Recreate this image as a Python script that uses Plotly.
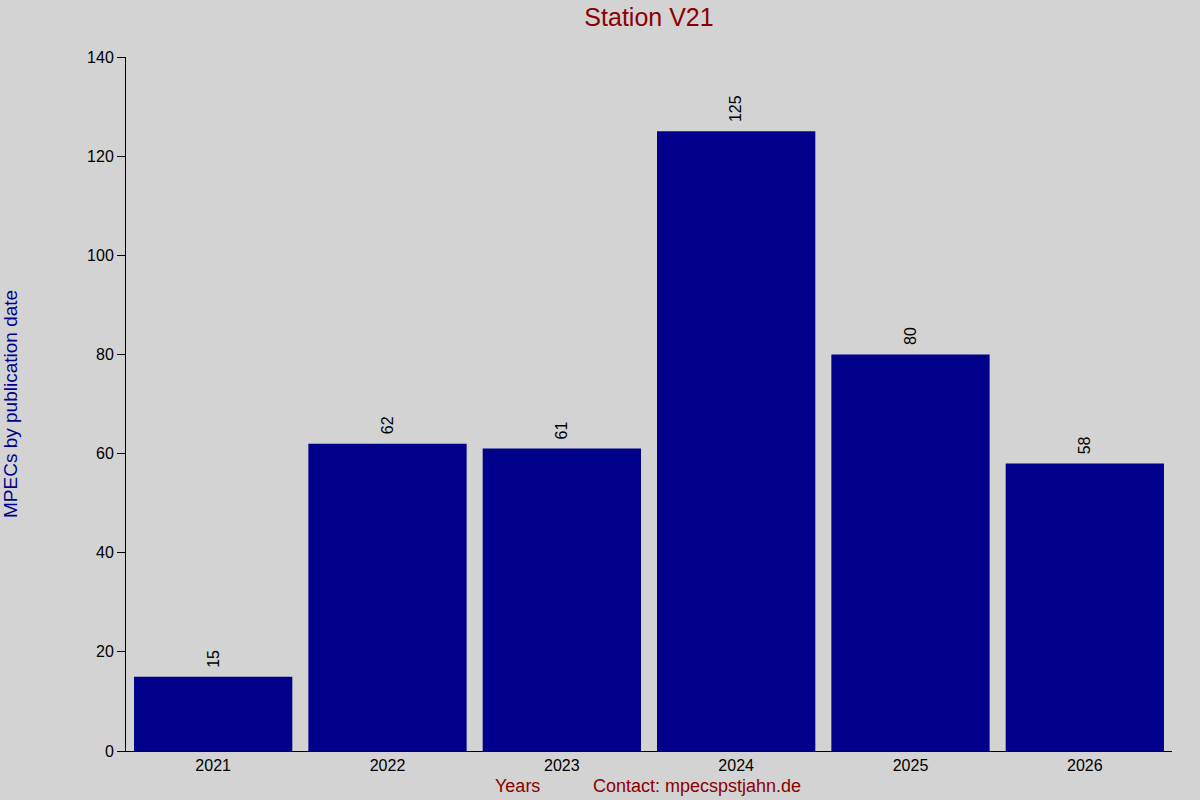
import plotly.graph_objects as go

years = ["2021", "2022", "2023", "2024", "2025", "2026"]
mpecs = [15, 62, 61, 125, 80, 58]
y_ticks = [0, 20, 40, 60, 80, 100, 120, 140]

fig = go.Figure()
fig.add_trace(go.Bar(
    x=years, y=mpecs, marker_color="#00008B", marker_line_width=0,
))

# value labels above bars, rotated (x by category index)
for i, v in enumerate(mpecs):
    fig.add_annotation(x=i, y=v, text=str(v), textangle=-90, showarrow=False,
                       xanchor="center", yanchor="bottom", yshift=7,
                       font=dict(size=16, color="black"))

fig.update_layout(
    width=1200, height=800,
    paper_bgcolor="#D3D3D3", plot_bgcolor="#D3D3D3",
    font=dict(family="Liberation Sans, Arial", color="black"),
    margin=dict(l=126, r=28, t=57, b=49),
    bargap=0.092,
    showlegend=False,
    title=dict(text="Station V21", x=(126 + 1172) / 2 / 1200, xanchor="center",
               y=0.99, yanchor="top", font=dict(size=25, color="#8B0000")),
)
fig.update_xaxes(
    type="category", range=[-0.5, 5.5], showgrid=False, showline=True,
    linecolor="black", linewidth=1, ticks="", tickfont=dict(size=16),
)
fig.update_yaxes(
    range=[0, 140], tickvals=y_ticks, showgrid=False, showline=True,
    linecolor="black", linewidth=1, ticks="outside", ticklen=8, tickcolor="black",
    tickfont=dict(size=16), zeroline=False,
)
fig.add_annotation(text="MPECs by publication date", xref="paper", yref="paper",
                   x=-116 / 1046, y=0.5, textangle=-90, showarrow=False,
                   xanchor="center", yanchor="middle",
                   font=dict(size=19, color="#00008B"))
fig.add_annotation(text="Years", xref="paper", yref="paper",
                   x=(517 - 126) / 1046, y=-35 / 694, showarrow=False,
                   xanchor="center", yanchor="middle",
                   font=dict(size=18, color="#8B0000"))
fig.add_annotation(text="Contact: mpecspstjahn.de", xref="paper", yref="paper",
                   x=(697 - 126) / 1046, y=-35 / 694, showarrow=False,
                   xanchor="center", yanchor="middle",
                   font=dict(size=18, color="#8B0000"))

fig.write_html("out.html", config={"displayModeBar": False},
               post_script="document.body.style.margin='0';")
